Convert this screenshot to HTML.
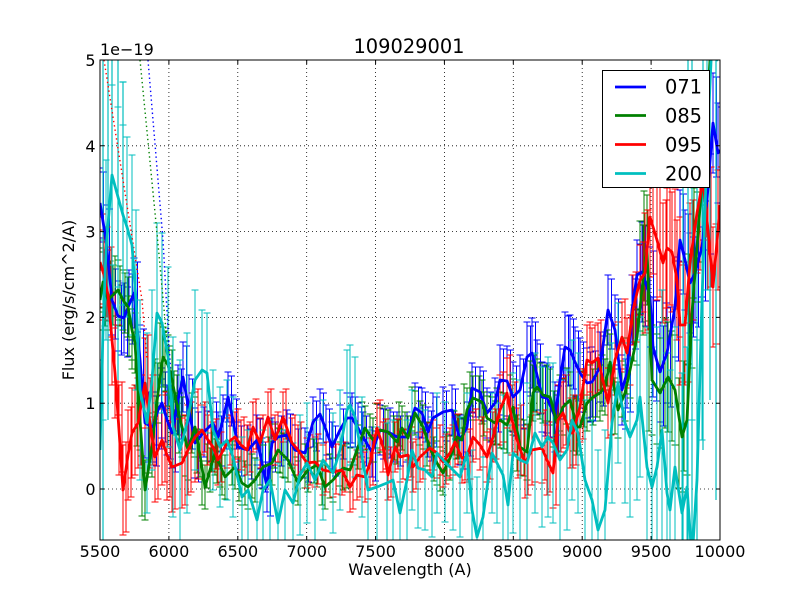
<!DOCTYPE html>
<html>
<head>
<meta charset="utf-8">
<style>
html,body{margin:0;padding:0;background:#fff;}
svg{display:block;}
text{font-family:"DejaVu Sans","Liberation Sans",sans-serif;fill:#000;}
</style>
</head>
<body>
<svg width="800" height="600" viewBox="0 0 800 600" xmlns="http://www.w3.org/2000/svg" xmlns:xlink="http://www.w3.org/1999/xlink">
<defs>
  <clipPath id="ax"><rect x="100" y="60" width="620" height="480"/></clipPath>
  <marker id="bA" markerUnits="userSpaceOnUse" markerWidth="1" markerHeight="1" refX="0" refY="0" style="overflow:visible"><path d="M-3.5,-35h7M0,-35v70M-3.5,35h7" stroke="#0000ff" stroke-width="1" fill="none"/></marker>
  <marker id="bB" markerUnits="userSpaceOnUse" markerWidth="1" markerHeight="1" refX="0" refY="0" style="overflow:visible"><path d="M-3.5,-25h7M0,-25v50M-3.5,25h7" stroke="#0000ff" stroke-width="1" fill="none"/></marker>
  <marker id="bC" markerUnits="userSpaceOnUse" markerWidth="1" markerHeight="1" refX="0" refY="0" style="overflow:visible"><path d="M-3.5,-35h7M0,-35v70M-3.5,35h7" stroke="#0000ff" stroke-width="1" fill="none"/></marker>
  <marker id="bD" markerUnits="userSpaceOnUse" markerWidth="1" markerHeight="1" refX="0" refY="0" style="overflow:visible"><path d="M-3.5,-50h7M0,-50v100M-3.5,50h7" stroke="#0000ff" stroke-width="1" fill="none"/></marker>

  <marker id="gA" markerUnits="userSpaceOnUse" markerWidth="1" markerHeight="1" refX="0" refY="0" style="overflow:visible"><path d="M-3.5,-30h7M0,-30v60M-3.5,30h7" stroke="#008000" stroke-width="1" fill="none"/></marker>
  <marker id="gB" markerUnits="userSpaceOnUse" markerWidth="1" markerHeight="1" refX="0" refY="0" style="overflow:visible"><path d="M-3.5,-22h7M0,-22v44M-3.5,22h7" stroke="#008000" stroke-width="1" fill="none"/></marker>
  <marker id="gC" markerUnits="userSpaceOnUse" markerWidth="1" markerHeight="1" refX="0" refY="0" style="overflow:visible"><path d="M-3.5,-28h7M0,-28v56M-3.5,28h7" stroke="#008000" stroke-width="1" fill="none"/></marker>
  <marker id="gD" markerUnits="userSpaceOnUse" markerWidth="1" markerHeight="1" refX="0" refY="0" style="overflow:visible"><path d="M-3.5,-55h7M0,-55v110M-3.5,55h7" stroke="#008000" stroke-width="1" fill="none"/></marker>

  <marker id="rA" markerUnits="userSpaceOnUse" markerWidth="1" markerHeight="1" refX="0" refY="0" style="overflow:visible"><path d="M-3.5,-45h7M0,-45v90M-3.5,45h7" stroke="#ff0000" stroke-width="1" fill="none"/></marker>
  <marker id="rB" markerUnits="userSpaceOnUse" markerWidth="1" markerHeight="1" refX="0" refY="0" style="overflow:visible"><path d="M-3.5,-25h7M0,-25v50M-3.5,25h7" stroke="#ff0000" stroke-width="1" fill="none"/></marker>
  <marker id="rC" markerUnits="userSpaceOnUse" markerWidth="1" markerHeight="1" refX="0" refY="0" style="overflow:visible"><path d="M-3.5,-35h7M0,-35v70M-3.5,35h7" stroke="#ff0000" stroke-width="1" fill="none"/></marker>
  <marker id="rD" markerUnits="userSpaceOnUse" markerWidth="1" markerHeight="1" refX="0" refY="0" style="overflow:visible"><path d="M-3.5,-60h7M0,-60v120M-3.5,60h7" stroke="#ff0000" stroke-width="1" fill="none"/></marker>

  <marker id="cA" markerUnits="userSpaceOnUse" markerWidth="1" markerHeight="1" refX="0" refY="0" style="overflow:visible"><path d="M-3.5,-90h7M0,-90v180M-3.5,90h7" stroke="#00bfbf" stroke-width="1" fill="none"/></marker>
  <marker id="cB" markerUnits="userSpaceOnUse" markerWidth="1" markerHeight="1" refX="0" refY="0" style="overflow:visible"><path d="M-3.5,-60h7M0,-60v120M-3.5,60h7" stroke="#00bfbf" stroke-width="1" fill="none"/></marker>
  <marker id="cC" markerUnits="userSpaceOnUse" markerWidth="1" markerHeight="1" refX="0" refY="0" style="overflow:visible"><path d="M-3.5,-80h7M0,-80v160M-3.5,80h7" stroke="#00bfbf" stroke-width="1" fill="none"/></marker>
  <marker id="cD" markerUnits="userSpaceOnUse" markerWidth="1" markerHeight="1" refX="0" refY="0" style="overflow:visible"><path d="M-3.5,-140h7M0,-140v280M-3.5,140h7" stroke="#00bfbf" stroke-width="1" fill="none"/></marker>
</defs>

<rect x="0" y="0" width="800" height="600" fill="#fff"/>
<rect x="100" y="60" width="620" height="480" fill="#fff"/>

<!-- grid -->
<g stroke="#000" stroke-width="0.8" stroke-dasharray="1,3" fill="none">
  <path d="M168.9,60V540M237.8,60V540M306.7,60V540M375.6,60V540M444.4,60V540M513.3,60V540M582.2,60V540M651.1,60V540"/>
  <path d="M100,403.2H720M100,317.4H720M100,231.6H720M100,145.8H720M100,489H720"/>
</g>

<g clip-path="url(#ax)">
  <!-- ===== ERROR BARS (all drawn beneath lines) ===== -->
  <g id="bmk" fill="none" stroke="none">
    <polyline marker-start="url(#bA)" marker-mid="url(#bA)" marker-end="url(#bA)" points="100,203 106,240 112,300 118,316 124,318 129,305 134,293 140,360 145,423 153,427 158,410 162,403 167,420 172,433 178,400 183,377 189,410 195,443"/>
    <polyline marker-start="url(#bB)" marker-mid="url(#bB)" marker-end="url(#bB)" points="204,432 213,423 218,437 223,420 228,397 233,420 238,447 248,450 257,440 262,463 267,487 272,443 278,437 287,435 295,450 305,453 313,422 320,414 326,430 332,447 340,430 347,418 352,418 358,428 363,437 372,452 380,430 390,433 397,437 407,437 415,408 422,413 428,432 433,418 443,412 452,410 460,440 467,427 472,388 480,392 487,413 495,403"/>
    <polyline marker-start="url(#bC)" marker-mid="url(#bC)" marker-end="url(#bC)" points="500,380 507,381 513,397 520,390 527,357 532,353 537,375 542,397 547,398 555,417 560,380 565,347 570,350 575,362 580,373 587,383 592,382 600,367 608,310 615,330 622,390 627,373 632,310 637,275"/>
    <polyline marker-start="url(#bD)" marker-mid="url(#bD)" marker-end="url(#bD)" points="642,272 650,297 653,347 660,372 667,353 675,307 680,240 685,260 690,283 695,273 702,247 707,200 713,123 718,153"/>
  </g>
  <use xlink:href="#bmk" href="#bmk" transform="translate(3.5,4)"/>

  <g id="gmk" fill="none" stroke="none">
    <polyline marker-start="url(#gA)" marker-mid="url(#gA)" marker-end="url(#gA)" points="100,300 103,282 108,300 113,295 118,290 123,300 128,307 132,330 135,343 140,420 145,490 152,447 158,393 163,357 168,365 172,380 177,405 182,427 188,450 195,427"/>
    <polyline marker-start="url(#gB)" marker-mid="url(#gB)" marker-end="url(#gB)" points="200,455 205,487 210,470 215,453 220,465 225,477 235,467 242,483 248,487 255,480 263,467 272,463 278,450 283,455 288,460 298,483 308,470 317,465 325,487 333,480 343,468 350,470 358,447 365,428 373,440 380,430 388,432 397,442 402,428 408,438 415,413 423,427 430,448 437,463 443,473 450,458 457,437 462,440 467,410 473,398 482,402 487,418 495,423"/>
    <polyline marker-start="url(#gC)" marker-mid="url(#gC)" marker-end="url(#gC)" points="500,420 507,425 513,407 520,447 527,452 533,393 537,387 543,395 550,397 557,423 563,407 570,400 577,427 580,427 587,403 593,397 600,393 605,387 610,362 618,410 625,393 630,370 637,337"/>
    <polyline marker-start="url(#gD)" marker-mid="url(#gD)" marker-end="url(#gD)" points="643,280 647,250 652,380 660,393 668,377 675,390 682,437 687,420 692,313 697,247 700,207 705,150"/>
  </g>
  <use xlink:href="#gmk" href="#gmk" transform="translate(-3,-4)"/>

  <g id="rmk" fill="none" stroke="none">
    <polyline marker-start="url(#rA)" marker-mid="url(#rA)" marker-end="url(#rA)" points="100,262 104,275 108,295 112,340 115,373 119,430 123,490 128,455 132,433 138,423 145,383 150,423 155,457 162,440 167,455 172,467 182,463 188,450 195,437"/>
    <polyline marker-start="url(#rB)" marker-mid="url(#rB)" marker-end="url(#rB)" points="202,430 208,440 213,447 218,460 227,443 235,437 241,445 247,450 253,427 260,443 268,417 275,440 283,417 292,443 298,450 307,463 315,462 323,470 333,472 342,470 350,487 357,475 365,477 370,463 377,428 383,447 388,475 395,447 400,457 408,455 413,467 420,457 430,448 437,453 443,462 450,453 455,442 462,458 467,457 473,437 480,445 487,457 493,437"/>
    <polyline marker-start="url(#rC)" marker-mid="url(#rC)" marker-end="url(#rC)" points="500,410 507,393 512,420 518,443 525,463 532,450 542,448 547,460 553,473 558,420 563,413 570,433 573,433 580,407 587,360 592,363 598,358 608,403 615,360 622,337 627,353 633,310 640,280"/>
    <polyline marker-start="url(#rD)" marker-mid="url(#rD)" marker-end="url(#rD)" points="645,273 650,217 657,240 663,263 667,248 672,252 677,280 680,325 685,325 690,263 697,213 703,180 708,230 713,287 718,230"/>
  </g>
  <use xlink:href="#rmk" href="#rmk" transform="translate(3,-3)"/>

  <g stroke="#00bfbf" stroke-width="1.2" fill="none">
    <path d="M103,60V540M108,60V420M112,60V330M118,60V380M123,82V330M119.5,82h7"/>
    <path d="M683,180V540M688,60V540M692,60V540M697,120V540M703,60V450M710,60V400M716,60V500M679.5,180h7"/>
  </g>
  <g fill="none" stroke="none">
    <polyline marker-start="url(#cA)" marker-mid="url(#cA)" marker-end="url(#cA)" points="100,450 103,330 106,250 112,175 118,197 123,215 127,227 132,245 136,300 140,390 147,423 152,380 157,313 162,323 168,357 173,427 180,450 187,423 195,380"/>
    <polyline marker-start="url(#cB)" marker-mid="url(#cB)" marker-end="url(#cB)" points="202,370 207,373 213,430 220,447 227,440 233,457 242,497 248,490 257,520 263,490 270,480 278,523 285,490 293,503 300,475 307,463 315,480 323,460 333,473 340,450 347,410 350,405 355,417 362,457 368,490 377,487 387,483 393,480 400,513 407,480 412,450 418,468 425,470 432,477 437,453 445,462 453,470 460,477 467,453 472,510 477,537 483,517 492,453 497,463"/>
    <polyline marker-start="url(#cC)" marker-mid="url(#cC)" marker-end="url(#cC)" points="503,475 508,505 513,453 520,460 527,463 535,433 542,447 548,437 553,443 560,460 567,450 572,420 578,433 585,480 592,500 598,530 605,510 612,423 618,383 625,423 630,437 637,420 640,397"/>
    <polyline marker-start="url(#cD)" marker-mid="url(#cD)" marker-end="url(#cD)" points="647,467 652,487 657,467 662,430 667,493 670,510 675,467 682,513 687,487 692,560 697,480 702,300 707,150"/>
  </g>

  <!-- dotted connectors -->
  <g fill="none" stroke-width="1.4" stroke-dasharray="1.4,3">
    <polyline stroke="#ff0000" points="104,60 142,300 147,360"/>
    <polyline stroke="#008000" points="140,60 157,233 165,320 170,370"/>
    <polyline stroke="#0000ff" points="148,60 163,240 168,330 172,390"/>
  </g>

  <!-- ===== DATA LINES ===== -->
  <polyline fill="none" stroke="#0000ff" stroke-width="2.8" stroke-linejoin="round" points="100,203 106,240 112,300 118,316 124,318 129,305 134,293 140,360 145,423 153,427 158,410 162,403 167,420 172,433 178,400 183,377 189,410 195,443 204,432 213,423 218,437 223,420 228,397 233,420 238,447 248,450 257,440 262,463 267,487 272,443 278,437 287,435 295,450 305,453 313,422 320,414 326,430 332,447 340,430 347,418 352,418 358,428 363,437 372,452 380,430 390,433 397,437 407,437 415,408 422,413 428,432 433,418 443,412 452,410 460,440 467,427 472,388 480,392 487,413 495,403 500,380 507,381 513,397 520,390 527,357 532,353 537,375 542,397 547,398 555,417 560,380 565,347 570,350 575,362 580,373 587,383 592,382 600,367 608,310 615,330 622,390 627,373 632,310 637,275 642,272 650,297 653,347 660,372 667,353 675,307 680,240 685,260 690,283 695,273 702,247 707,200 713,123 718,153 720,150"/>

  <polyline fill="none" stroke="#008000" stroke-width="2.8" stroke-linejoin="round" points="100,300 103,282 108,300 113,295 118,290 123,300 128,307 132,330 135,343 140,420 145,490 152,447 158,393 163,357 168,365 172,380 177,405 182,427 188,450 195,427 200,455 205,487 210,470 215,453 220,465 225,477 235,467 242,483 248,487 255,480 263,467 272,463 278,450 283,455 288,460 298,483 308,470 317,465 325,487 333,480 343,468 350,470 358,447 365,428 373,440 380,430 388,432 397,442 402,428 408,438 415,413 423,427 430,448 437,463 443,473 450,458 457,437 462,440 467,410 473,398 482,402 487,418 495,423 500,420 507,425 513,407 520,447 527,452 533,393 537,387 543,395 550,397 557,423 563,407 570,400 577,427 580,427 587,403 593,397 600,393 605,387 610,362 618,410 625,393 630,370 637,337 643,280 647,250 652,380 660,393 668,377 675,390 682,437 687,420 692,313 697,247 700,207 705,150 710,60 713,20"/>

  <polyline fill="none" stroke="#ff0000" stroke-width="2.8" stroke-linejoin="round" points="100,262 104,275 108,295 112,340 115,373 119,430 123,490 128,455 132,433 138,423 145,383 150,423 155,457 162,440 167,455 172,467 182,463 188,450 195,437 202,430 208,440 213,447 218,460 227,443 235,437 241,445 247,450 253,427 260,443 268,417 275,440 283,417 292,443 298,450 307,463 315,462 323,470 333,472 342,470 350,487 357,475 365,477 370,463 377,428 383,447 388,475 395,447 400,457 408,455 413,467 420,457 430,448 437,453 443,462 450,453 455,442 462,458 467,457 473,437 480,445 487,457 493,437 500,410 507,393 512,420 518,443 525,463 532,450 542,448 547,460 553,473 558,420 563,413 570,433 573,433 580,407 587,360 592,363 598,358 608,403 615,360 622,337 627,353 633,310 640,280 645,273 650,217 657,240 663,263 667,248 672,252 677,280 680,325 685,325 690,263 697,213 703,180 708,230 713,287 718,230 720,205"/>

  <polyline fill="none" stroke="#00bfbf" stroke-width="2.8" stroke-linejoin="round" points="100,450 103,330 106,250 112,175 118,197 123,215 127,227 132,245 136,300 140,390 147,423 152,380 157,313 162,323 168,357 173,427 180,450 187,423 195,380 202,370 207,373 213,430 220,447 227,440 233,457 242,497 248,490 257,520 263,490 270,480 278,523 285,490 293,503 300,475 307,463 315,480 323,460 333,473 340,450 347,410 350,405 355,417 362,457 368,490 377,487 387,483 393,480 400,513 407,480 412,450 418,468 425,470 432,477 437,453 445,462 453,470 460,477 467,453 472,510 477,537 483,517 492,453 497,463 503,475 508,505 513,453 520,460 527,463 535,433 542,447 548,437 553,443 560,460 567,450 572,420 578,433 585,480 592,500 598,530 605,510 612,423 618,383 625,423 630,437 637,420 640,397 647,467 652,487 657,467 662,430 667,493 670,510 675,467 682,513 687,487 692,560 697,480 702,300 707,150 712,40 717,60 720,40"/>
</g>

<!-- axes frame -->
<rect x="100" y="60" width="620" height="480" fill="none" stroke="#000" stroke-width="1"/>

<!-- ticks -->
<g stroke="#000" stroke-width="1" fill="none">
  <path d="M100,540v-4M168.9,540v-4M237.8,540v-4M306.7,540v-4M375.6,540v-4M444.4,540v-4M513.3,540v-4M582.2,540v-4M651.1,540v-4M720,540v-4"/>
  <path d="M100,60v4M168.9,60v4M237.8,60v4M306.7,60v4M375.6,60v4M444.4,60v4M513.3,60v4M582.2,60v4M651.1,60v4M720,60v4"/>
  <path d="M100,489h4M100,403.2h4M100,317.4h4M100,231.6h4M100,145.8h4M100,60h4"/>
  <path d="M720,489h-4M720,403.2h-4M720,317.4h-4M720,231.6h-4M720,145.8h-4M720,60h-4"/>
</g>

<!-- tick labels -->
<g font-size="16" text-anchor="middle">
  <text x="100" y="557">5500</text>
  <text x="168.9" y="557">6000</text>
  <text x="237.8" y="557">6500</text>
  <text x="306.7" y="557">7000</text>
  <text x="375.6" y="557">7500</text>
  <text x="444.4" y="557">8000</text>
  <text x="513.3" y="557">8500</text>
  <text x="582.2" y="557">9000</text>
  <text x="651.1" y="557">9500</text>
  <text x="720" y="557">10000</text>
</g>
<g font-size="16" text-anchor="end">
  <text x="95.5" y="495">0</text>
  <text x="95.5" y="409">1</text>
  <text x="95.5" y="323">2</text>
  <text x="95.5" y="237.5">3</text>
  <text x="95.5" y="152">4</text>
  <text x="95.5" y="66">5</text>
</g>
<text x="100" y="55" font-size="16">1e−19</text>
<text x="409" y="53" font-size="19.4" text-anchor="middle">109029001</text>
<text x="410" y="575" font-size="16" text-anchor="middle">Wavelength (A)</text>
<text x="0" y="0" font-size="16" text-anchor="middle" transform="translate(74,300) rotate(-90)">Flux (erg/s/cm^2/A)</text>

<!-- legend -->
<rect x="602.5" y="70.5" width="107" height="117" fill="#fff" stroke="#000" stroke-width="1"/>
<g stroke-width="2.8">
  <line x1="615" y1="87" x2="646" y2="87" stroke="#0000ff"/>
  <line x1="615" y1="115.5" x2="646" y2="115.5" stroke="#008000"/>
  <line x1="615" y1="144.5" x2="646" y2="144.5" stroke="#ff0000"/>
  <line x1="615" y1="173.5" x2="646" y2="173.5" stroke="#00bfbf"/>
</g>
<g font-size="19.4">
  <text x="665" y="93.3">071</text>
  <text x="665" y="122.3">085</text>
  <text x="665" y="151.3">095</text>
  <text x="665" y="180.3">200</text>
</g>
</svg>
</body>
</html>
